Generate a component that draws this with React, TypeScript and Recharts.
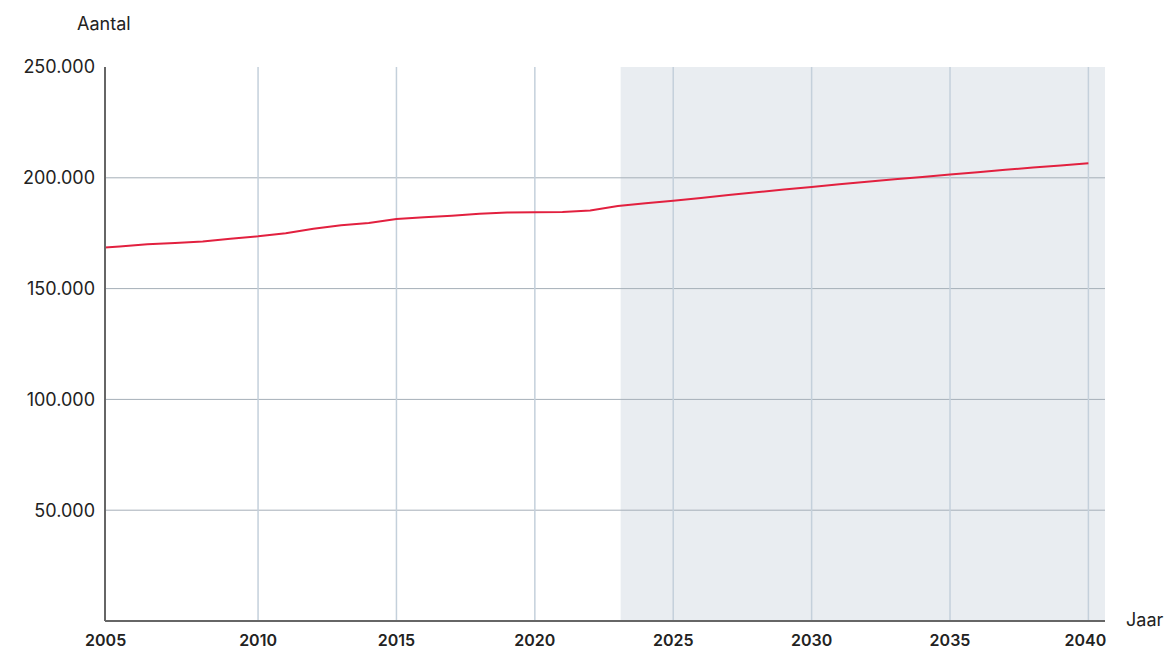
import React from 'react';
import { LineChart, Line, XAxis, YAxis, ReferenceArea, ReferenceLine } from 'recharts';

const years = [2004, 2005, 2006, 2007, 2008, 2009, 2010, 2011, 2012, 2013, 2014, 2015, 2016, 2017, 2018, 2019, 2020, 2021, 2022, 2023, 2024, 2025, 2026, 2027, 2028, 2029, 2030, 2031, 2032, 2033, 2034, 2035, 2036, 2037, 2038, 2039, 2040];
const aantal = [168200, 169000, 170000, 170600, 171300, 172500, 173600, 175000, 177000, 178600, 179600, 181400, 182200, 182900, 183800, 184300, 184400, 184600, 185200, 187300, 188500, 189600, 190900, 192200, 193500, 194700, 195900, 197100, 198200, 199300, 200400, 201500, 202500, 203600, 204600, 205600, 206600];
const xTicks = [2005, 2010, 2015, 2020, 2025, 2030, 2035, 2040];
const xGridYears = [2010, 2015, 2020, 2025, 2030, 2035, 2040];
const yTicks = [50000, 100000, 150000, 200000, 250000];
const yGridValues = [50000, 100000, 150000, 200000];
const xDomain: [number, number] = [2004.47, 2040.6];
const prognoseStart = 2023.1;

const data = years.map((y, i) => ({ jaar: y, aantal: aantal[i] }));

const fmt = (v: number) => v.toLocaleString('de-DE');

const XTick = (props: any) => {
  const { x, y, payload } = props;
  const v = payload.value;
  const dx = v === 2005 ? -14 : v === 2040 ? -3 : 0;
  return (
    <text x={x + dx} y={y} dy="0.71em" textAnchor="middle" fill="#222" fontSize={16} fontWeight={600} fontFamily="Inter">
      {v}
    </text>
  );
};

export default function App() {
  return (
    <div style={{ position: 'absolute', left: 0, top: 0, width: 1164, height: 650, fontFamily: 'Inter', background: '#fff' }}>
      <div style={{ position: 'absolute', left: 77, top: 13, fontSize: 18, color: '#222' }}>Aantal</div>
      <div style={{ position: 'absolute', left: 1126, top: 609, fontSize: 18, color: '#222' }}>Jaar</div>
      <LineChart width={1164} height={650} data={data} margin={{ top: 67, right: 59, bottom: 0, left: 0 }}>
        <XAxis
          dataKey="jaar"
          type="number"
          domain={xDomain}
          allowDataOverflow
          ticks={xTicks}
          tickLine={false}
          axisLine={{ stroke: '#666', strokeWidth: 2 }}
          tickMargin={8}
          height={29}
          tick={<XTick />}
        />
        <YAxis
          type="number"
          domain={[0, 250000]}
          ticks={yTicks}
          tickFormatter={fmt}
          tickLine={false}
          axisLine={{ stroke: '#666', strokeWidth: 2 }}
          tickMargin={4}
          width={105}
          tick={{ fill: '#222', fontSize: 18, fontFamily: 'Inter' }}
        />
        <ReferenceArea x1={prognoseStart} x2={xDomain[1]} y1={0} y2={250000} fill="#e9edf1" fillOpacity={1} stroke="none" ifOverflow="hidden" />
        {yGridValues.map((v) => (
          <ReferenceLine key={'h' + v} y={v} stroke="#a5afb8" strokeWidth={1} />
        ))}
        {xGridYears.map((v) => (
          <ReferenceLine key={'v' + v} x={v} stroke="#c4d0db" strokeWidth={1.5} />
        ))}
        <Line type="linear" dataKey="aantal" stroke="#e2203f" strokeWidth={2} dot={false} isAnimationActive={false} />
      </LineChart>
    </div>
  );
}
